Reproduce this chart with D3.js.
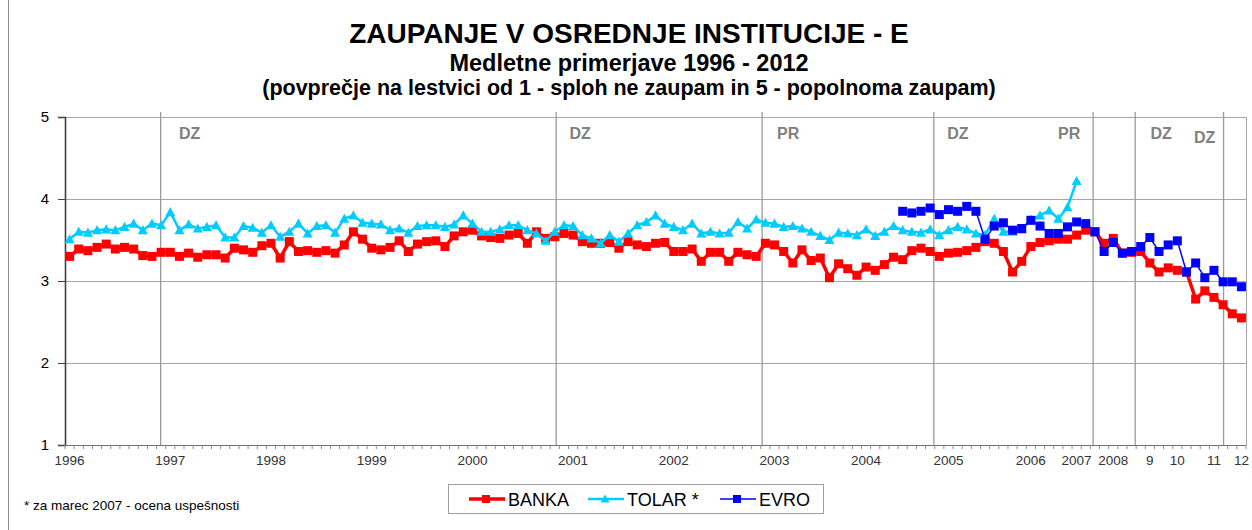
<!DOCTYPE html>
<html>
<head>
<meta charset="utf-8">
<script src="https://cdn.jsdelivr.net/npm/d3@7"></script>
<style>
  body { margin: 0; background: #fff; }
  svg text { font-family: Arial, "Liberation Sans", sans-serif; }
</style>
</head>
<body>
<svg id="chart" width="1252" height="530"></svg>
<script>
// ---- data (one value per survey, uniform category axis) ----
const nPoints = 129;

const banka = [
  3.30, 3.39, 3.37, 3.41, 3.45, 3.39, 3.41, 3.39, 3.31, 3.30, 3.35, 3.35,
  3.30, 3.34, 3.29, 3.32, 3.32, 3.28, 3.40, 3.38, 3.35, 3.43, 3.46, 3.28,
  3.48, 3.36, 3.37, 3.35, 3.37, 3.34, 3.44, 3.60, 3.51, 3.40, 3.38, 3.41,
  3.49, 3.36, 3.45, 3.48, 3.49, 3.42, 3.55, 3.60, 3.62, 3.55, 3.53, 3.52,
  3.56, 3.58, 3.46, 3.60, 3.52, 3.54, 3.58, 3.56, 3.48, 3.46, 3.46, 3.47,
  3.40, 3.48, 3.44, 3.42, 3.46, 3.47, 3.36, 3.36, 3.39, 3.24, 3.35, 3.35,
  3.24, 3.35, 3.32, 3.30, 3.46, 3.44, 3.36, 3.22, 3.38, 3.25, 3.28, 3.04,
  3.21, 3.15, 3.07, 3.17, 3.13, 3.20, 3.29, 3.26, 3.37, 3.40, 3.36, 3.30,
  3.34, 3.35, 3.37, 3.41, 3.48, 3.46, 3.36, 3.11, 3.24, 3.42, 3.47, 3.49,
  3.51, 3.51, 3.56, 3.62, 3.60, 3.46, 3.52, 3.34, 3.35, 3.36, 3.22, 3.11,
  3.16, 3.13, 3.11, 2.78, 2.88, 2.80, 2.71, 2.60, 2.55
];

const tolarStart = 0;
const tolar = [
  3.51, 3.60, 3.59, 3.62, 3.63, 3.62, 3.66, 3.70, 3.62, 3.70, 3.68, 3.84,
  3.62, 3.69, 3.64, 3.66, 3.68, 3.53, 3.53, 3.67, 3.65, 3.59, 3.68, 3.54,
  3.60, 3.70, 3.58, 3.67, 3.68, 3.59, 3.76, 3.80, 3.71, 3.70, 3.69, 3.62,
  3.64, 3.59, 3.67, 3.68, 3.68, 3.66, 3.69, 3.80, 3.70, 3.60, 3.60, 3.63,
  3.68, 3.68, 3.62, 3.58, 3.49, 3.60, 3.68, 3.67, 3.56, 3.52, 3.46, 3.56,
  3.48, 3.58, 3.68, 3.72, 3.80, 3.70, 3.66, 3.62, 3.70, 3.58, 3.60, 3.58,
  3.59, 3.72, 3.64, 3.75, 3.71, 3.70, 3.66, 3.67, 3.64, 3.60, 3.55, 3.50,
  3.59, 3.58, 3.56, 3.63, 3.55, 3.60, 3.67, 3.62, 3.60, 3.59, 3.63, 3.56,
  3.62, 3.66, 3.63, 3.58, 3.56, 3.76, 3.60, 3.60, 3.63, 3.75, 3.80, 3.86,
  3.76, 3.90, 4.22
];

const evroStart = 91;
const evro = [
  3.85, 3.83, 3.85, 3.89, 3.81, 3.87, 3.85, 3.91, 3.85, 3.51, 3.67, 3.71,
  3.62, 3.64, 3.74, 3.67, 3.58, 3.58, 3.66, 3.72, 3.70, 3.60, 3.36, 3.47,
  3.34, 3.36, 3.42, 3.53, 3.36, 3.44, 3.49, 3.11, 3.22, 3.04, 3.13, 2.99,
  2.99, 2.93
];

const yearLabels = ["1996", "1997", "1998", "1999", "2000", "2001", "2002", "2003",
  "2004", "2005", "2006", "2007", "2008", "9", "10", "11", "12"];
const yearIndex = [0, 11, 22, 33, 44, 55, 66, 77, 87, 96, 105, 110, 114, 118, 121, 125, 128];

// elections: DZ = parliamentary, PR = presidential (position on the category axis)
const eventLabels = ["DZ", "DZ", "PR", "DZ", "PR", "DZ", "DZ"];
const eventPos = [10.45, 53.65, 76.15, 94.9, 112.3, 116.9, 126.55];

const yTicks = [1, 2, 3, 4, 5];

// ---- layout ----
const svg = d3.select("#chart");
const pLeft = 65, pRight = 1246, pTop = 117, pBottom = 445;
const x = d3.scaleLinear().domain([0, nPoints]).range([pLeft, pRight]);
const y = d3.scaleLinear().domain([1, 5]).range([pBottom, pTop]);
const cx = i => x(i + 0.5);

// outer frame line on the left
svg.append("line").attr("x1", 8.5).attr("x2", 8.5).attr("y1", 0).attr("y2", 530)
  .attr("stroke", "#8c8c8c").attr("stroke-width", 1);

// titles
const titles = [
  {t: "ZAUPANJE V OSREDNJE INSTITUCIJE - E", size: 28, y: 43},
  {t: "Medletne primerjave 1996 - 2012", size: 23.5, y: 70.5},
  {t: "(povprečje na lestvici od 1 - sploh ne zaupam in 5 - popolnoma zaupam)", size: 21.5, y: 94.5}
];
svg.selectAll(".title").data(titles).join("text")
  .attr("class", "title")
  .attr("x", 629).attr("y", d => d.y)
  .attr("text-anchor", "middle")
  .attr("font-weight", "bold")
  .attr("font-size", d => d.size + "px")
  .text(d => d.t);

// gridlines
svg.selectAll(".grid").data(yTicks.filter(d => d > 1)).join("line")
  .attr("class", "grid")
  .attr("x1", pLeft).attr("x2", pRight)
  .attr("y1", d => y(d) + 0.5).attr("y2", d => y(d) + 0.5)
  .attr("stroke", "#a6a6a6").attr("stroke-width", 1);

// right border of plot area
svg.append("line").attr("x1", pRight + 0.5).attr("x2", pRight + 0.5)
  .attr("y1", pTop).attr("y2", pBottom)
  .attr("stroke", "#a6a6a6");

// election lines + labels
svg.selectAll(".event").data(eventPos).join("line")
  .attr("class", "event")
  .attr("x1", d => x(d)).attr("x2", d => x(d))
  .attr("y1", pTop - 5).attr("y2", pBottom)
  .attr("stroke", "#9a9a9a").attr("stroke-width", 1.3);

const labelDx = [29, 24, 26, 24, -24, 26, -19];
const labelDy = [0, 0, 0, 0, 0, 0, 4];
svg.selectAll(".evlabel").data(eventLabels).join("text")
  .attr("class", "evlabel")
  .attr("x", (d, i) => x(eventPos[i]) + labelDx[i])
  .attr("y", (d, i) => 139 + labelDy[i])
  .attr("text-anchor", "middle")
  .attr("font-size", "16px").attr("font-weight", "bold")
  .attr("fill", "#808080")
  .text(d => d);

// y axis
const yAxis = svg.append("g")
  .attr("transform", `translate(${pLeft},0)`)
  .call(d3.axisLeft(y).tickValues(yTicks).tickSize(7).tickPadding(9).tickFormat(d3.format("d")));
yAxis.select(".domain").attr("stroke", "#404040").attr("stroke-width", 1.6);
yAxis.selectAll(".tick line").attr("stroke", "#404040");
yAxis.selectAll(".tick text").attr("font-size", "15px").attr("fill", "#000")
  .attr("font-family", "Arial, 'Liberation Sans', sans-serif");

// x axis
svg.append("line").attr("x1", pLeft).attr("x2", pRight)
  .attr("y1", pBottom + 0.5).attr("y2", pBottom + 0.5)
  .attr("stroke", "#707070").attr("stroke-width", 1.2);
svg.selectAll(".xtick").data(d3.range(nPoints + 1)).join("line")
  .attr("class", "xtick")
  .attr("x1", d => x(d)).attr("x2", d => x(d))
  .attr("y1", pBottom).attr("y2", pBottom + 4)
  .attr("stroke", "#8c8c8c").attr("stroke-width", 1);
svg.selectAll(".xlabel").data(yearLabels).join("text")
  .attr("class", "xlabel")
  .attr("x", (d, i) => cx(yearIndex[i]))
  .attr("y", 465)
  .attr("text-anchor", "middle")
  .attr("font-size", "13.5px").attr("fill", "#333")
  .text(d => d);

// series
const toPts = (arr, start) => arr.map((v, k) => ({i: start + k, v: v}));
const line = d3.line().x(d => cx(d.i)).y(d => y(d.v));

const series = [
  {name: "BANKA", pts: toPts(banka, 0), color: "#ff0000", width: 3.5, marker: "square", size: 9},
  {name: "TOLAR *", pts: toPts(tolar, tolarStart), color: "#00ccff", width: 2.5, marker: "triangle", size: 9},
  {name: "EVRO", pts: toPts(evro, evroStart), color: "#0000ff", width: 1.5, marker: "square", size: 9}
];

function drawMarker(g, type, size, color) {
  if (type === "square") {
    g.append("rect").attr("x", -size / 2).attr("y", -size / 2)
      .attr("width", size).attr("height", size).attr("fill", color);
  } else {
    const h = size * 0.9;
    g.append("path").attr("d", `M0,${-h / 2 - 1}L${size / 2 + 0.5},${h / 2}L${-size / 2 - 0.5},${h / 2}Z`)
      .attr("fill", color);
  }
}

series.forEach(s => {
  svg.append("path").datum(s.pts)
    .attr("d", line)
    .attr("fill", "none")
    .attr("stroke", s.color)
    .attr("stroke-width", s.width)
    .attr("stroke-linejoin", "round");
  svg.append("g").selectAll("g").data(s.pts).join("g")
    .attr("transform", d => `translate(${cx(d.i)},${y(d.v)})`)
    .each(function () { drawMarker(d3.select(this), s.marker, s.size, s.color); });
});

// legend
const lg = svg.append("g");
lg.append("rect").attr("x", 448.5).attr("y", 484.5).attr("width", 375).attr("height", 29)
  .attr("fill", "#fff").attr("stroke", "#a0a0a0");
const legendX = [469, 588, 720];
series.forEach((s, k) => {
  const g = lg.append("g").attr("transform", `translate(${legendX[k]},499)`);
  g.append("line").attr("x1", 0).attr("x2", 36).attr("y1", 0).attr("y2", 0)
    .attr("stroke", s.color).attr("stroke-width", s.width);
  const m = g.append("g").attr("transform", "translate(17,0)");
  drawMarker(m, s.marker, 8, s.color);
  g.append("text").attr("x", 39).attr("y", 6.5)
    .attr("font-size", "18px").attr("fill", "#000")
    .text(s.name);
});

// footnote
svg.append("text").attr("x", 24).attr("y", 510)
  .attr("font-size", "13.5px").attr("fill", "#000")
  .text("* za marec 2007 - ocena uspešnosti");
</script>
</body>
</html>
